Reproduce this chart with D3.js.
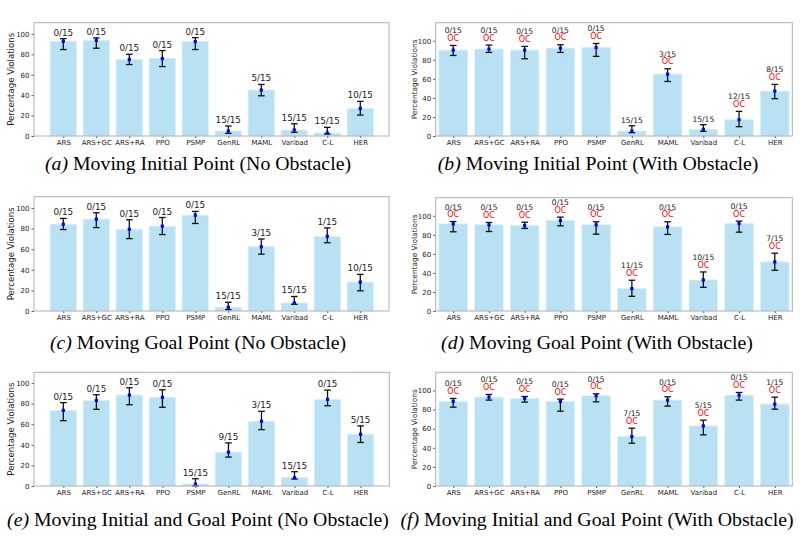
<!DOCTYPE html>
<html>
<head>
<meta charset="utf-8">
<script src="https://cdn.jsdelivr.net/npm/d3@7"></script>
<style>
  body { margin: 0; background: #fff; }
  svg { display: block; }
</style>
</head>
<body>
<script>
// methods on the x axis (same in every panel)
const methods = ["ARS", "ARS+GC", "ARS+RA", "PPO", "PSMP", "GenRL", "MAML", "Varibad", "C-L", "HER"];
const yTicks = [0, 20, 40, 60, 80, 100];

// (a) Moving Initial Point (No Obstacle)
const meanA = [92.8, 93.8, 74.9, 75.9, 92.5, 4.9, 45.0, 5.9, 2.9, 27.0];
const lowA  = [84.7, 86.0, 70.0, 68.0, 84.7, 2.6, 39.4, 3.6, 2.0, 20.5];
const highA = [95.4, 96.1, 80.1, 83.7, 96.4, 9.8, 50.5, 12.0, 8.5, 33.9];
const labelsA = ["0/15", "0/15", "0/15", "0/15", "0/15", "15/15", "5/15", "15/15", "15/15", "10/15"];

// (b) Moving Initial Point (With Obstacle)
const meanB = [90.2, 91.3, 90.2, 92.3, 93.0, 5.2, 65.0, 7.0, 17.1, 47.2];
const lowB  = [84.6, 87.8, 81.1, 87.8, 83.6, 3.5, 57.3, 4.9, 9.8, 39.2];
const highB = [95.1, 95.5, 94.1, 95.8, 97.2, 10.8, 70.6, 11.9, 25.9, 54.2];
const labelsB = ["0/15", "0/15", "0/15", "0/15", "0/15", "15/15", "3/15", "15/15", "12/15", "8/15"];
const ocB = [1, 1, 1, 1, 1, 0, 1, 0, 1, 1];

// (c) Moving Goal Point (No Obstacle)
const meanC = [84.3, 89.2, 79.4, 82.4, 93.1, 3.6, 62.4, 7.8, 72.5, 28.1];
const lowC  = [79.1, 81.0, 70.3, 74.2, 85.0, 1.3, 55.2, 6.5, 66.3, 19.6];
const highC = [89.9, 95.4, 88.6, 90.8, 96.7, 8.5, 69.9, 14.1, 80.7, 35.6];
const labelsC = ["0/15", "0/15", "0/15", "0/15", "0/15", "15/15", "3/15", "15/15", "1/15", "10/15"];

// (d) Moving Goal Point (With Obstacle)
const meanD = [91.6, 90.5, 89.8, 95.1, 90.5, 23.5, 88.4, 32.6, 91.9, 51.6];
const lowD  = [83.2, 83.5, 86.7, 89.5, 80.7, 15.4, 80.4, 24.9, 82.8, 42.8];
const highD = [94.0, 93.0, 93.3, 98.6, 93.7, 32.3, 93.7, 41.0, 94.4, 60.7];
const labelsD = ["0/15", "0/15", "0/15", "0/15", "0/15", "11/15", "0/15", "10/15", "0/15", "7/15"];
const ocD = [1, 1, 1, 1, 1, 1, 1, 1, 1, 1];

// (e) Moving Initial and Goal Point (No Obstacle)
const meanE = [73.5, 83.2, 88.4, 86.1, 1.9, 32.9, 62.9, 8.1, 84.2, 50.3];
const lowE  = [63.5, 74.5, 79.0, 76.5, 0.0, 28.1, 54.8, 6.8, 78.0, 42.3];
const highE = [81.0, 88.7, 95.5, 93.5, 7.1, 41.9, 72.6, 13.9, 93.2, 58.4];
const labelsE = ["0/15", "0/15", "0/15", "0/15", "15/15", "9/15", "3/15", "15/15", "0/15", "5/15"];

// (f) Moving Initial and Goal Point (With Obstacle)
const meanF = [88.5, 93.0, 91.6, 88.5, 94.4, 51.7, 89.9, 62.9, 95.1, 85.7];
const lowF  = [82.5, 89.9, 87.8, 78.3, 88.1, 44.8, 83.6, 53.5, 89.9, 80.4];
const highF = [91.6, 95.8, 93.7, 90.9, 96.5, 60.5, 93.4, 68.9, 97.9, 93.0];
const labelsF = ["0/15", "0/15", "0/15", "0/15", "0/15", "7/15", "0/15", "5/15", "0/15", "1/15"];
const ocF = [1, 1, 1, 1, 1, 1, 1, 1, 1, 1];

const captions = [
  ["(a)", "Moving Initial Point (No Obstacle)"],
  ["(b)", "Moving Initial Point (With Obstacle)"],
  ["(c)", "Moving Goal Point (No Obstacle)"],
  ["(d)", "Moving Goal Point (With Obstacle)"],
  ["(e)", "Moving Initial and Goal Point (No Obstacle)"],
  ["(f)", "Moving Initial and Goal Point (With Obstacle)"]
];

let svg = d3.select("body")
    .append("svg")
    .attr("width", 802)
    .attr("height", 537);

// layout of each panel: left, right, top, bottom of the frame
let panels = [
  {mean: meanA, lo: lowA, hi: highA, labels: labelsA, oc: null, box: [34, 389, 22.7, 136], ymax: 111, cap: captions[0], capX: 198, capY: 170},
  {mean: meanB, lo: lowB, hi: highB, labels: labelsB, oc: ocB, box: [435.7, 792.3, 22.7, 136], ymax: 119, cap: captions[1], capX: 598, capY: 170},
  {mean: meanC, lo: lowC, hi: highC, labels: labelsC, oc: null, box: [34, 389, 196.7, 311], ymax: 111, cap: captions[2], capX: 198, capY: 349},
  {mean: meanD, lo: lowD, hi: highD, labels: labelsD, oc: ocD, box: [435.7, 792.3, 197.7, 311], ymax: 119, cap: captions[3], capX: 597, capY: 349},
  {mean: meanE, lo: lowE, hi: highE, labels: labelsE, oc: null, box: [34, 389.3, 372.3, 486], ymax: 110.5, cap: captions[4], capX: 198, capY: 526},
  {mean: meanF, lo: lowF, hi: highF, labels: labelsF, oc: ocF, box: [435.7, 792.3, 372.3, 486], ymax: 119, cap: captions[5], capX: 597, capY: 526}
];

panels.forEach(function(p) {
    let [x0, x1, y0, y1] = p.box;
    let right = p.oc !== null;
    let g = svg.append("g");

    let xDom = right ? [-0.49, 9.49] : [-0.888, 9.87];
    let xScale = d3.scaleLinear().domain(xDom).range([x0, x1]);
    let yScale = d3.scaleLinear().domain([0, p.ymax]).range([y1, y0]);
    let bw = xScale(0.8) - xScale(0);

    let rows = methods.map((m, i) => ({
        m: m, i: i, mean: p.mean[i], lo: p.lo[i], hi: p.hi[i],
        label: p.labels[i], oc: right ? p.oc[i] : 0
    }));

    // bars
    g.append("g")
        .selectAll("rect")
        .data(rows)
        .join("rect")
        .attr("x", d => xScale(d.i) - bw / 2)
        .attr("y", d => yScale(d.mean))
        .attr("width", bw)
        .attr("height", d => yScale(0) - yScale(d.mean))
        .attr("fill", "#b8e1f3")
        .attr("stroke", "#d8f0fa")
        .attr("stroke-width", 0.8);

    // error bars
    let eb = g.append("g").attr("stroke", "#111").attr("stroke-width", 1.3);
    eb.selectAll(".v").data(rows).join("line").attr("class", "v")
        .attr("x1", d => xScale(d.i)).attr("x2", d => xScale(d.i))
        .attr("y1", d => yScale(d.lo)).attr("y2", d => yScale(d.hi));
    eb.selectAll(".ct").data(rows).join("line").attr("class", "ct")
        .attr("x1", d => xScale(d.i) - 3.3).attr("x2", d => xScale(d.i) + 3.3)
        .attr("y1", d => yScale(d.hi)).attr("y2", d => yScale(d.hi));
    eb.selectAll(".cb").data(rows).join("line").attr("class", "cb")
        .attr("x1", d => xScale(d.i) - 3.3).attr("x2", d => xScale(d.i) + 3.3)
        .attr("y1", d => yScale(d.lo)).attr("y2", d => yScale(d.lo));

    // mean markers
    g.append("g")
        .selectAll("rect")
        .data(rows)
        .join("rect")
        .attr("x", d => xScale(d.i) - 1.6)
        .attr("y", d => yScale(d.mean) - 1.6)
        .attr("width", 3.2)
        .attr("height", 3.2)
        .attr("fill", "#0000ff");

    // count labels
    if (!right) {
        g.append("g")
            .selectAll("text")
            .data(rows)
            .join("text")
            .attr("x", d => xScale(d.i))
            .attr("y", d => yScale(d.hi) - 3)
            .attr("text-anchor", "middle")
            .attr("font-family", "DejaVu Sans")
            .attr("font-size", 8.8)
            .attr("fill", "#222")
            .text(d => d.label);
    } else {
        g.append("g")
            .selectAll("text")
            .data(rows)
            .join("text")
            .attr("x", d => xScale(d.i))
            .attr("y", d => yScale(d.hi) - (d.oc ? 12 : 3))
            .attr("text-anchor", "middle")
            .attr("font-family", "DejaVu Sans")
            .attr("font-size", 7.6)
            .attr("fill", "#222")
            .text(d => d.label);
        g.append("g")
            .selectAll("text")
            .data(rows.filter(d => d.oc))
            .join("text")
            .attr("x", d => xScale(d.i))
            .attr("y", d => yScale(d.hi) - 4.3)
            .attr("text-anchor", "middle")
            .attr("font-family", "DejaVu Sans")
            .attr("font-size", 8)
            .attr("fill", "#ff0000")
            .text("OC");
    }

    // axes
    let xAxis = g.append("g")
        .attr("transform", "translate(0," + y1 + ")")
        .call(d3.axisBottom(xScale).tickValues(d3.range(10)).tickFormat(i => methods[i]).tickSize(2).tickPadding(2));
    let yAxis = g.append("g")
        .attr("transform", "translate(" + x0 + ",0)")
        .call(d3.axisLeft(yScale).tickValues(yTicks).tickSize(2.5).tickPadding(2));
    [xAxis, yAxis].forEach(a => {
        a.select(".domain").remove();
        a.selectAll("line").attr("stroke", "#555");
        a.selectAll("text")
            .attr("font-family", "DejaVu Sans")
            .attr("font-size", right ? 7 : 7)
            .attr("fill", "#222");
    });

    // frame
    g.append("rect")
        .attr("x", x0).attr("y", y0)
        .attr("width", x1 - x0).attr("height", y1 - y0)
        .attr("fill", "none")
        .attr("stroke", "#b0b0b0")
        .attr("stroke-width", 1);

    // y label
    g.append("text")
        .attr("transform", "translate(" + (right ? x0 - 19 : x0 - 20) + "," + ((y0 + y1) / 2) + ") rotate(-90)")
        .attr("text-anchor", "middle")
        .attr("font-family", "DejaVu Sans")
        .attr("font-size", right ? 7.4 : 8.6)
        .attr("fill", "#222")
        .text("Percentage Violations");

    // caption
    let cap = g.append("text")
        .attr("x", p.capX)
        .attr("y", p.capY)
        .attr("text-anchor", "middle")
        .attr("font-family", "Liberation Serif")
        .attr("font-size", 19.8)
        .attr("fill", "#000");
    cap.append("tspan").attr("font-style", "italic").text(p.cap[0]);
    cap.append("tspan").text(" " + p.cap[1]);
});
</script>
</body>
</html>
